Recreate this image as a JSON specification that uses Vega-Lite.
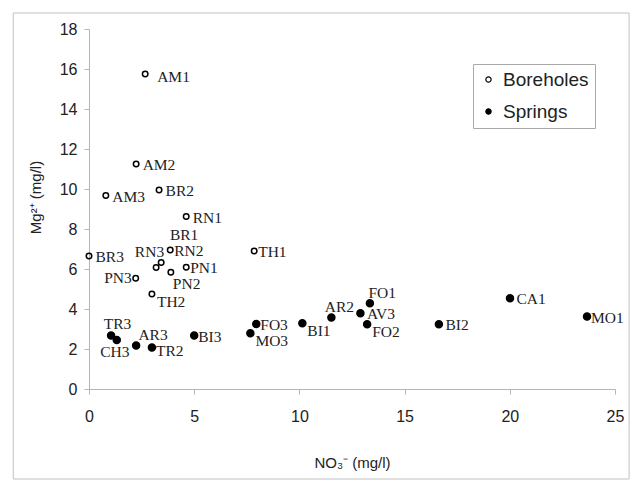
{
  "$schema": "https://vega.github.io/schema/vega-lite/v6.json",
  "width": 526,
  "height": 360,
  "autosize": {"type": "none"},
  "padding": {"left": 89, "top": 29, "right": 18, "bottom": 92},
  "background": "white",
  "config": {
    "view": {"stroke": null},
    "axis": {
      "domainColor": "#b5b5b5", "tickColor": "#b5b5b5", "tickSize": 5, "grid": false,
      "labelFont": "Liberation Sans", "labelFontSize": 16, "labelColor": "#222",
      "titleFont": "Liberation Sans", "titleFontSize": 15, "titleFontWeight": "normal", "titleColor": "#222",
      "labelFlush": false, "labelOverlap": false, "labelBound": false
    }
  },
  "data": {
    "values": [
      {"name": "AM1", "type": "Boreholes", "no3": 2.67, "mg": 15.75},
      {"name": "AM2", "type": "Boreholes", "no3": 2.24, "mg": 11.25},
      {"name": "AM3", "type": "Boreholes", "no3": 0.8, "mg": 9.67},
      {"name": "BR2", "type": "Boreholes", "no3": 3.33, "mg": 9.95},
      {"name": "RN1", "type": "Boreholes", "no3": 4.62, "mg": 8.62},
      {"name": "RN2", "type": "Boreholes", "no3": 3.86, "mg": 6.95},
      {"name": "RN3", "type": "Boreholes", "no3": 3.43, "mg": 6.32},
      {"name": "BR1", "type": "Boreholes", "no3": 3.19, "mg": 6.07},
      {"name": "PN1", "type": "Boreholes", "no3": 4.62, "mg": 6.09},
      {"name": "PN2", "type": "Boreholes", "no3": 3.89, "mg": 5.84},
      {"name": "PN3", "type": "Boreholes", "no3": 2.22, "mg": 5.54},
      {"name": "TH1", "type": "Boreholes", "no3": 7.85, "mg": 6.9},
      {"name": "TH2", "type": "Boreholes", "no3": 2.99, "mg": 4.75},
      {"name": "BR3", "type": "Boreholes", "no3": 0.0, "mg": 6.65},
      {"name": "TR3", "type": "Springs", "no3": 1.05, "mg": 2.67},
      {"name": "CH3", "type": "Springs", "no3": 1.32, "mg": 2.45},
      {"name": "AR3", "type": "Springs", "no3": 2.24, "mg": 2.17},
      {"name": "TR2", "type": "Springs", "no3": 2.99, "mg": 2.07},
      {"name": "BI3", "type": "Springs", "no3": 5.0, "mg": 2.67},
      {"name": "MO3", "type": "Springs", "no3": 7.67, "mg": 2.79},
      {"name": "FO3", "type": "Springs", "no3": 7.95, "mg": 3.25},
      {"name": "BI1", "type": "Springs", "no3": 10.14, "mg": 3.29},
      {"name": "AR2", "type": "Springs", "no3": 11.52, "mg": 3.57},
      {"name": "AV3", "type": "Springs", "no3": 12.9, "mg": 3.79},
      {"name": "FO1", "type": "Springs", "no3": 13.35, "mg": 4.29},
      {"name": "FO2", "type": "Springs", "no3": 13.22, "mg": 3.24},
      {"name": "BI2", "type": "Springs", "no3": 16.63, "mg": 3.24},
      {"name": "CA1", "type": "Springs", "no3": 20.01, "mg": 4.54},
      {"name": "MO1", "type": "Springs", "no3": 23.67, "mg": 3.62}
    ]
  },
  "encoding": {
    "x": {"field": "no3", "type": "quantitative",
      "scale": {"domain": [0, 25], "nice": false, "zero": false},
      "axis": {"values": [0, 5, 10, 15, 20, 25], "labelPadding": 14, "title": "NO₃⁻ (mg/l)", "titleY": 73, "titleBaseline": "middle"}},
    "y": {"field": "mg", "type": "quantitative",
      "scale": {"domain": [0, 18], "nice": false, "zero": false},
      "axis": {"values": [0, 2, 4, 6, 8, 10, 12, 14, 16, 18], "labelPadding": 7, "title": "Mg²⁺ (mg/l)", "titleX": -54, "titleY": 168, "titleBaseline": "middle", "titleAlign": "center"}}
  },
  "layer": [
    {
      "data": {"values": [{"x0": -3.6, "x1": 25.67, "y0": 18.8, "y1": -4.5}]},
      "mark": {"type": "rect", "fill": "white", "fillOpacity": 0, "stroke": "#c0c0c0", "strokeWidth": 1, "clip": false},
      "encoding": {
        "x": {"field": "x0", "type": "quantitative"},
        "x2": {"field": "x1"},
        "y": {"field": "y0", "type": "quantitative"},
        "y2": {"field": "y1"}
      }
    },
    {
      "transform": [{"filter": {"field": "type", "equal": "Boreholes"}}],
      "mark": {"type": "point", "filled": true, "stroke": "black", "strokeWidth": 1.5, "opacity": 1, "size": 30, "shape": "circle"},
      "encoding": {
        "fill": {"field": "type", "type": "nominal",
          "scale": {"domain": ["Boreholes", "Springs"], "range": ["transparent", "black"]},
          "legend": {
            "title": null, "orient": "none", "legendX": 384, "legendY": 35,
            "labelFont": "Liberation Sans", "labelFontSize": 19, "labelColor": "#222",
            "strokeColor": "#aaaaaa", "fillColor": "white", "padding": 6, "rowPadding": 12,
            "symbolSize": 28, "symbolStrokeColor": "black", "symbolStrokeWidth": 1.2,
            "labelOffset": 5, "symbolType": "circle"
          }}
      }
    },
    {
      "transform": [{"filter": {"field": "type", "equal": "Springs"}}],
      "mark": {"type": "point", "filled": true, "stroke": "black", "strokeWidth": 1.4, "opacity": 1, "size": 50, "shape": "circle"},
      "encoding": {
        "fill": {"field": "type", "type": "nominal"}
      }
    },
    {
      "transform": [{"filter": {"field": "name", "oneOf": ["AM2", "AM3", "BR2", "RN1", "BR3", "AV3", "BI2", "CA1"]}}],
      "mark": {"type": "text", "align": "left", "baseline": "middle", "dx": 6.5, "dy": 1, "font": "Liberation Serif", "fontSize": 15.5, "color": "#222"},
      "encoding": {"text": {"field": "name"}}
    },
    {
      "transform": [{"filter": {"field": "name", "oneOf": ["RN2", "BI3", "FO3", "PN1", "TH1", "MO1"]}}],
      "mark": {"type": "text", "align": "left", "baseline": "middle", "dx": 4, "dy": 1, "font": "Liberation Serif", "fontSize": 15.5, "color": "#222"},
      "encoding": {"text": {"field": "name"}}
    },
    {
      "transform": [{"filter": {"field": "name", "oneOf": ["TR2"]}}],
      "mark": {"type": "text", "align": "left", "baseline": "middle", "dx": 4, "dy": 3, "font": "Liberation Serif", "fontSize": 15.5, "color": "#222"},
      "encoding": {"text": {"field": "name"}}
    },
    {
      "transform": [{"filter": {"field": "name", "oneOf": ["AM1"]}}],
      "mark": {"type": "text", "align": "left", "baseline": "middle", "dx": 12, "dy": 3, "font": "Liberation Serif", "fontSize": 15.5, "color": "#222"},
      "encoding": {"text": {"field": "name"}}
    },
    {
      "transform": [{"filter": {"field": "name", "oneOf": ["TH2", "MO3", "BI1", "FO2"]}}],
      "mark": {"type": "text", "align": "left", "baseline": "middle", "dx": 5, "dy": 8, "font": "Liberation Serif", "fontSize": 15.5, "color": "#222"},
      "encoding": {"text": {"field": "name"}}
    },
    {
      "transform": [{"filter": {"field": "name", "oneOf": ["PN2"]}}],
      "mark": {"type": "text", "align": "left", "baseline": "middle", "dx": 2, "dy": 12, "font": "Liberation Serif", "fontSize": 15.5, "color": "#222"},
      "encoding": {"text": {"field": "name"}}
    },
    {
      "transform": [{"filter": {"field": "name", "oneOf": ["PN3"]}}],
      "mark": {"type": "text", "align": "right", "baseline": "middle", "dx": -4, "dy": 0, "font": "Liberation Serif", "fontSize": 15.5, "color": "#222"},
      "encoding": {"text": {"field": "name"}}
    },
    {
      "transform": [{"filter": {"field": "name", "oneOf": ["RN3"]}}],
      "mark": {"type": "text", "align": "right", "baseline": "middle", "dx": 3, "dy": -11, "font": "Liberation Serif", "fontSize": 15.5, "color": "#222"},
      "encoding": {"text": {"field": "name"}}
    },
    {
      "transform": [{"filter": {"field": "name", "oneOf": ["BR1"]}}],
      "mark": {"type": "text", "align": "center", "baseline": "middle", "dx": 28, "dy": -33, "font": "Liberation Serif", "fontSize": 15.5, "color": "#222"},
      "encoding": {"text": {"field": "name"}}
    },
    {
      "transform": [{"filter": {"field": "name", "oneOf": ["TR3"]}}],
      "mark": {"type": "text", "align": "center", "baseline": "middle", "dx": 6.5, "dy": -11.7, "font": "Liberation Serif", "fontSize": 15.5, "color": "#222"},
      "encoding": {"text": {"field": "name"}}
    },
    {
      "transform": [{"filter": {"field": "name", "oneOf": ["CH3"]}}],
      "mark": {"type": "text", "align": "center", "baseline": "middle", "dx": -2, "dy": 11.7, "font": "Liberation Serif", "fontSize": 15.5, "color": "#222"},
      "encoding": {"text": {"field": "name"}}
    },
    {
      "transform": [{"filter": {"field": "name", "oneOf": ["AR3"]}}],
      "mark": {"type": "text", "align": "left", "baseline": "middle", "dx": 2.3, "dy": -11, "font": "Liberation Serif", "fontSize": 15.5, "color": "#222"},
      "encoding": {"text": {"field": "name"}}
    },
    {
      "transform": [{"filter": {"field": "name", "oneOf": ["AR2"]}}],
      "mark": {"type": "text", "align": "center", "baseline": "middle", "dx": 8, "dy": -10.4, "font": "Liberation Serif", "fontSize": 15.5, "color": "#222"},
      "encoding": {"text": {"field": "name"}}
    },
    {
      "transform": [{"filter": {"field": "name", "oneOf": ["FO1"]}}],
      "mark": {"type": "text", "align": "center", "baseline": "middle", "dx": 12.4, "dy": -10.6, "font": "Liberation Serif", "fontSize": 15.5, "color": "#222"},
      "encoding": {"text": {"field": "name"}}
    }
  ]
}
